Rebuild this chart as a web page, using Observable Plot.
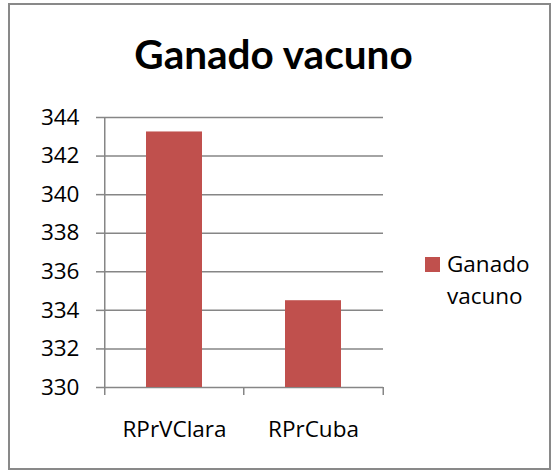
<!DOCTYPE html>
<html>
<head>
<meta charset="utf-8">
<script src="https://cdn.jsdelivr.net/npm/d3@7"></script>
<script src="https://cdn.jsdelivr.net/npm/@observablehq/plot@0.6"></script>
<style>
  html, body { margin: 0; padding: 0; background: #fff; }
  #wrap { position: relative; width: 552px; height: 471px; overflow: hidden; font-family: "Open Sans", "Noto Sans", sans-serif; }
  #frame { position: absolute; left: 8px; top: 3px; width: 539px; height: 463px; border: 2px solid #898989; box-sizing: content-box; }
  #title { position: absolute; left: 0; top: 34px; width: 547px; text-align: center; font-family: Lato, "Open Sans", sans-serif; font-weight: bold; font-size: 40.5px; line-height: 40.5px; color: #000; }
  #legend { position: absolute; left: 425px; top: 248px; font-size: 22.5px; line-height: 31.5px; color: #000; }
  #legend .sw { position: absolute; left: 0; top: 9px; width: 15px; height: 15px; background: #C0504D; }
  #legend .lab { position: absolute; left: 22px; top: 0; white-space: nowrap; }
  #chart { position: absolute; left: 0; top: 0; }
</style>
</head>
<body>
<div id="wrap">
  <div id="frame"></div>
  <div id="chart"></div>
  <div id="title"></div>
  <div id="legend"><div class="sw"></div><div class="lab"></div></div>
</div>
<script>
const chartTitle = "Ganado vacuno";
const seriesName = "Ganado vacuno";
const categories = ["RPrVClara", "RPrCuba"];
const values = [343.25, 334.5];
const yTicks = [330, 332, 334, 336, 338, 340, 342, 344];

const W = 552, H = 471;
const mL = 104, mR = 169, mT = 117, mB = 84;
const plotW = W - mL - mR, plotH = H - mT - mB;
const step = plotW / categories.length;
const half = step / 2;
const yMin = yTicks[0], yMax = yTicks[yTicks.length - 1];
const pxPerUnit = plotH / (yMax - yMin);
const tickExt = 8 / pxPerUnit;
const gray = "#868686";

const data = categories.map((c, i) => ({ cat: c, val: values[i] }));

const plot = Plot.plot({
  width: W,
  height: H,
  marginLeft: mL,
  marginRight: mR,
  marginTop: mT,
  marginBottom: mB,
  style: { fontFamily: "'Open Sans', 'Noto Sans', sans-serif", fontSize: "22.5px", color: "#000", background: "transparent", overflow: "visible" },
  x: { domain: categories, paddingInner: 0.6, paddingOuter: 0.3, label: null },
  y: { domain: [yMin, yMax], label: null },
  marks: [
    Plot.ruleY(yTicks, { stroke: gray, strokeWidth: 1.5 }),
    Plot.barY(data, { x: "cat", y1: yMin, y2: "val", fill: "#C0504D" }),
    Plot.ruleX([categories[0]], { dx: -half, y1: yMin - tickExt, y2: yMax, stroke: gray, strokeWidth: 1.5 }),
    Plot.ruleX(categories.slice(1), { dx: -half, y1: yMin - tickExt, y2: yMin, stroke: gray, strokeWidth: 1.5 }),
    Plot.ruleX([categories[categories.length - 1]], { dx: half, y1: yMin - tickExt, y2: yMin, stroke: gray, strokeWidth: 1.5 }),
    Plot.axisY({ ticks: yTicks, tickSize: 8, tickPadding: 17, stroke: gray, strokeWidth: 1.5, tickFormat: d => String(d), label: null }),
    Plot.axisX({ tickSize: 0, tickPadding: 34, label: null })
  ]
});
document.getElementById("chart").appendChild(plot);
document.getElementById("title").textContent = chartTitle;
document.querySelector("#legend .lab").innerHTML = seriesName.split(" ").join("<br>");
</script>
</body>
</html>
